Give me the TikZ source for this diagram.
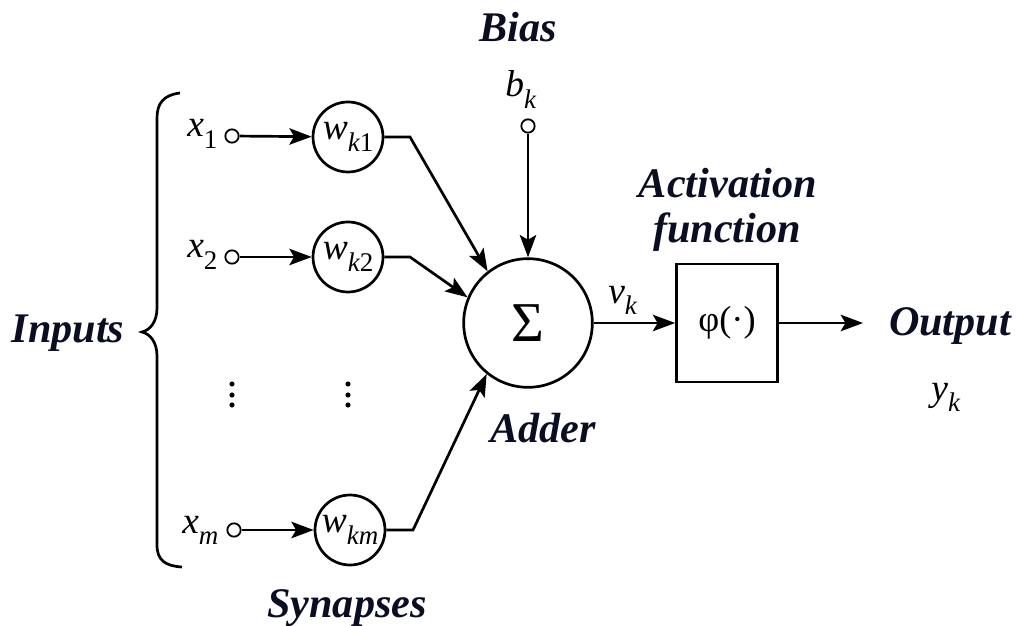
\documentclass[tikz,border=0pt]{standalone}
\usepackage{fontspec}
\setmainfont{Liberation Serif}
\usetikzlibrary{arrows.meta}
\definecolor{lab}{RGB}{10,14,34}
\newcommand\mylbl{\fontsize{36}{40}\selectfont\bfseries\itshape}
\newcommand\myvar[2]{{\fontsize{32}{34}\selectfont\itshape #1\raisebox{-0.3em}{\fontsize{23}{25}\selectfont #2}}}
\begin{document}
\begin{tikzpicture}[x=0.03cm,y=-0.03cm,line width=2.3pt,
  arr/.style={-{Stealth[length=19pt,width=14pt,inset=4pt]}},
  wn/.style={circle,draw,inner sep=0pt,minimum size=2.1cm},
  sn/.style={circle,draw,inner sep=0pt,minimum size=3.86cm,font=\fontsize{48}{52}\selectfont},
  bx/.style={rectangle,draw,inner sep=0pt,minimum width=3.03cm,minimum height=3.54cm,font=\fontsize{31}{34}\selectfont},
  term/.style={circle,draw,fill=white,line width=1.5pt,inner sep=0pt,minimum size=0.4cm},
  lbl/.style={font=\mylbl,text=lab,inner sep=0pt},
  var/.style={inner sep=0pt,anchor=base west}]
\useasboundingbox (0,0) rectangle (1018,626);

% weight circles
\node[wn] (w1) at (348,137) {\myvar{w}{k\upshape 1}};
\node[wn] (w2) at (348,257) {\myvar{w}{k\upshape 2}};
\node[wn] (wm) at (350,530) {\myvar{w}{km}};
% adder, activation
\node[sn] (sig) at (528,323) {Σ};
\node[bx] (phi) at (727,323) {φ(·)};
% terminals
\node[term] (t1) at (232,136) {};
\node[term] (t2) at (232,257) {};
\node[term] (tm) at (234,530) {};
\node[term] (tb) at (528,126) {};
% corner coordinates
\coordinate (c1) at (410,137);
\coordinate (c2) at (410,257);
\coordinate (cm) at (413,530);
\coordinate (out) at (863,323);

% connectors
\draw[arr] (t1) -- (w1);
\draw[arr] (t2) -- (w2);
\draw[arr] (tm) -- (wm);
\draw[arr] (w1) -- (c1) -- (sig.128);
\draw[arr] (w2) -- (c2) -- (sig.157);
\draw[arr] (wm) -- (cm) -- (sig.231);
\draw[arr] (tb) -- (sig.north);
\draw[arr] (sig) -- (phi);
\draw[arr] (phi) -- (out);

% brace
\draw (180,93) .. controls (163,95) and (157,104) .. (157,118) -- (157,308)
  .. controls (157,322) and (150,330) .. (142,332)
  .. controls (150,334) and (157,342) .. (157,356) -- (157,545)
  .. controls (157,560) and (165,566) .. (182,567);

% dots
\foreach \yy in {384,395,405} {
  \fill (232,\yy) circle (2.2pt);
  \fill (348,\yy) circle (2.2pt);
}

% variable labels
\node[var] (x1) at (186,137) {\myvar{x}{\upshape 1}};
\node[var] (x2) at (186,258) {\myvar{x}{\upshape 2}};
\node[var] (xm) at (181,533) {\myvar{x}{m}};
\node[var] (bk) at (504,97) {\myvar{b}{k}};
\node[var] (vk) at (607,303) {\myvar{v}{k}};
\node[var] (yk) at (930,400) {\myvar{y}{k}};

% text labels
\node[lbl,anchor=base] (inputs) at (68,342) {Inputs};
\node[lbl,anchor=base] (bias) at (518,42) {Bias};
\node[lbl,anchor=base] (act) at (728,198) {Activation};
\node[lbl,anchor=base] (fun) at (727,243) {function};
\node[lbl,anchor=base] (outp) at (950,335) {Output};
\node[lbl,anchor=base] (adder) at (543,442) {Adder};
\node[lbl,anchor=base] (syn) at (347,617) {Synapses};
\end{tikzpicture}
\end{document}
